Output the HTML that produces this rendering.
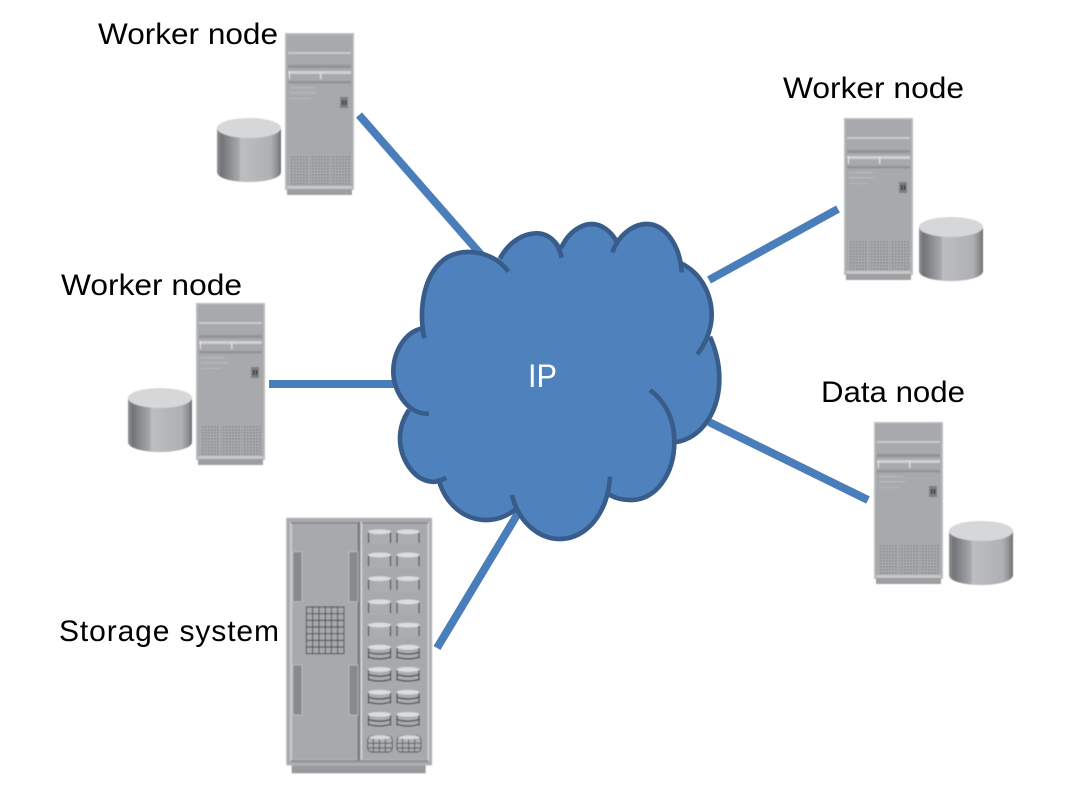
<!DOCTYPE html>
<html><head><meta charset="utf-8">
<style>html,body{margin:0;padding:0;background:#fff;width:1086px;height:801px;overflow:hidden}svg{display:block}text{font-family:"Liberation Sans",sans-serif;fill:#000;font-size:30px}</style>
</head><body>
<svg width="1086" height="801" viewBox="0 0 1086 801" xmlns="http://www.w3.org/2000/svg">
<defs>
<filter id="soft" x="0" y="0" width="1086" height="801" filterUnits="userSpaceOnUse"><feGaussianBlur stdDeviation="0.45"/></filter>
<linearGradient id="cy" x1="0" x2="1" y1="0" y2="0">
<stop offset="0" stop-color="#909295"/><stop offset=".07" stop-color="#727477"/><stop offset=".34" stop-color="#a6a8ab"/><stop offset=".37" stop-color="#bcbec0"/><stop offset=".84" stop-color="#aeb0b3"/><stop offset=".94" stop-color="#8e9093"/><stop offset="1" stop-color="#6a6c6f"/>
</linearGradient>
<pattern id="gr" width="3" height="3" patternUnits="userSpaceOnUse"><rect width="3" height="3" fill="#a9abae"/><rect width="1.6" height="1.6" fill="#86888b"/></pattern>
<g id="server">
<rect x="0" y="0" width="69" height="157" fill="#bcbec0"/>
<rect x="1.5" y="1.5" width="66" height="154" fill="#a7a9ac"/>
<rect x="3" y="19" width="63" height="2" fill="#c9cacc"/>
<rect x="3" y="32" width="63" height="3" fill="#919396"/>
<rect x="3" y="38" width="63" height="3" fill="#cfd0d2"/>
<rect x="4" y="38" width="1" height="8" fill="#e6e7e8"/>
<rect x="35" y="39" width="1.5" height="7" fill="#dcdde0"/>
<rect x="3" y="48" width="63" height="2.5" fill="#919396"/>
<rect x="5" y="54" width="24" height="1.5" fill="#b5b7b9"/>
<rect x="5" y="59" width="26" height="1.5" fill="#b5b7b9"/>
<rect x="5" y="65" width="20" height="1" fill="#b5b7b9"/>
<rect x="55" y="64" width="8" height="11" fill="#7d7f82"/>
<rect x="57" y="67" width="1.6" height="5" fill="#3a3b3d"/><rect x="59.8" y="67" width="1.6" height="5" fill="#3a3b3d"/>
<rect x="5" y="122" width="19" height="30" fill="url(#gr)"/>
<rect x="25" y="122" width="19" height="30" fill="url(#gr)"/>
<rect x="46" y="122" width="19" height="30" fill="url(#gr)"/>
<rect x="2" y="153" width="65" height="2.5" fill="#c8c9cb"/>
<rect x="2" y="156" width="65" height="6" fill="#9d9fa2"/>
</g>
<g id="cyl">
<path d="M0 10V54C0 60 14 64 32 64S64 60 64 54V10Z" fill="url(#cy)"/>
<ellipse cx="32" cy="10" rx="32" ry="10" fill="#d6d7d9"/>
</g>
<g id="disk">
<path d="M0 6V28C0 31 10 33 24 33S48 31 48 28V6Z" fill="#abadb0"/>
<rect x="0" y="6" width="2.6" height="22" fill="#55575a"/><rect x="45.4" y="6" width="2.6" height="22" fill="#55575a"/>
<ellipse cx="24" cy="5" rx="24" ry="5" fill="#dcdde0"/>
</g>
<g id="stack">
<use href="#disk"/>
<path d="M0 15Q24 23 48 15M0 25Q24 33 48 25" fill="none" stroke="#4a4c4f" stroke-width="2.6"/>
</g>
</defs>

<g stroke="#4a7ebb" stroke-width="8" fill="none">
<path d="M359 115L484 258"/>
<path d="M269 384H398"/>
<path d="M709 280L838 209"/>
<path d="M709 422L868 500"/>
<path d="M437 648L520 510"/>
</g>

<g filter="url(#soft)">
<use href="#server" x="285" y="33"/><use href="#cyl" x="217" y="118"/>
<use href="#server" x="196" y="303"/><use href="#cyl" x="128" y="388"/>
<use href="#server" x="844" y="118"/><use href="#cyl" x="919" y="217"/>
<use href="#server" x="874" y="422"/><use href="#cyl" x="949" y="521"/>

<g transform="translate(280 510) scale(.3333)">
<rect x="35" y="762" width="402" height="28" fill="#98999c"/>
<rect x="20" y="25" width="435" height="740" fill="#a7a9ac"/>
<rect x="20" y="25" width="435" height="740" fill="none" stroke="#b9bbbd" stroke-width="3"/>
<path d="M33 38H445V752H33Z" fill="none" stroke="#c9cacc" stroke-width="7"/>
<rect x="33" y="36" width="412" height="5" fill="#808285"/>
<rect x="233" y="36" width="8" height="716" fill="#77797c"/>
<rect x="241" y="36" width="6" height="716" fill="#d0d1d3"/>
<rect x="33" y="750" width="412" height="6" fill="#8a8c8f"/>
<g fill="#87898c" stroke="#c9cacc" stroke-width="2">
<rect x="39" y="125" width="27" height="150"/><rect x="207" y="125" width="27" height="150"/>
<rect x="39" y="465" width="27" height="150"/><rect x="207" y="465" width="27" height="150"/>
</g>
<g fill="none" stroke="#3c3e41" stroke-width="2.5">
<rect x="79" y="291" width="113" height="140"/>
<path d="M79 311H192M79 331H192M79 351H192M79 371H192M79 391H192M79 411H192M98 291V431M117 291V431M136 291V431M154 291V431M173 291V431"/>
</g>
<g transform="translate(-3 0) scale(1.45)">
<use href="#disk" x="184" y="40"/><use href="#disk" x="243" y="40"/>
<use href="#disk" x="184" y="88"/><use href="#disk" x="243" y="88"/>
<use href="#disk" x="184" y="137"/><use href="#disk" x="243" y="137"/>
<use href="#disk" x="184" y="185"/><use href="#disk" x="243" y="185"/>
<use href="#disk" x="184" y="233"/><use href="#disk" x="243" y="233"/>
<use href="#stack" x="184" y="279"/><use href="#stack" x="243" y="279"/>
<use href="#stack" x="184" y="325"/><use href="#stack" x="243" y="325"/>
<use href="#stack" x="184" y="372"/><use href="#stack" x="243" y="372"/>
<use href="#stack" x="184" y="418"/><use href="#stack" x="243" y="418"/>
</g>
<g fill="#aeb0b2" stroke="#4a4c4f" stroke-width="2.5">
<rect x="263" y="678" width="74" height="48" rx="12"/><rect x="351" y="678" width="72" height="48" rx="12"/>
<path d="M263 700H337M263 714H337M280 680V725M298 680V725M316 680V725M351 700H423M351 714H423M368 680V725M386 680V725M404 680V725" fill="none"/>
</g>
<ellipse cx="300" cy="682" rx="32" ry="6" fill="#d8d9db"/><ellipse cx="387" cy="682" rx="32" ry="6" fill="#d8d9db"/>
</g>
</g>

<g transform="translate(385 215) scale(.33333)" stroke="#385d8a" stroke-width="14" stroke-linecap="butt">
<path fill="#4f81bd" stroke="none" d="M113 340C105 270 115 170 190 125C230 100 270 105 305 120L345 130C375 75 420 55 455 55C490 55 520 70 530 100C550 50 590 27 620 27C650 27 680 50 695 75C715 45 750 27 785 27C840 27 880 80 888 145C950 175 980 240 980 300C980 325 978 345 975 365C995 410 1003 450 1003 490C1003 590 950 670 870 682C860 780 810 855 740 855C715 855 690 850 672 838C650 920 600 972 525 972C470 972 420 930 396 880C365 905 335 915 305 915C240 915 180 870 160 795C150 802 145 800 140 800C85 795 45 730 45 670C45 640 55 610 72 585C45 560 25 520 25 470C25 410 60 350 113 340Z"/>
<g fill="none">
<path d="M118 370C100 280 115 170 190 125C250 95 330 115 370 170"/>
<path d="M345 130C375 75 420 55 455 55C490 55 520 80 530 128"/>
<path d="M528 100C550 50 590 27 620 27C650 27 680 50 695 80"/>
<path d="M682 112C700 60 745 27 785 27C840 27 885 90 890 172"/>
<path d="M888 145C950 175 980 240 980 300C980 350 955 395 937 418"/>
<path d="M975 365C995 410 1003 450 1003 490C1003 590 950 670 870 682"/>
<path d="M795 525C840 560 868 610 868 680C868 780 810 855 740 855C715 855 690 850 672 838"/>
<path d="M675 785C668 900 600 972 525 972C460 972 400 920 381 840"/>
<path d="M396 880C365 905 335 915 305 915C240 915 180 870 160 790"/>
<path d="M184 788C165 798 150 802 140 800C85 795 45 730 45 670C45 640 55 610 72 585"/>
<path d="M132 596C70 600 25 530 25 470C25 410 60 350 113 340"/>
</g>
</g>

<text x="98" y="44" textLength="180" lengthAdjust="spacingAndGlyphs">Worker node</text>
<text x="61" y="295" textLength="181" lengthAdjust="spacingAndGlyphs">Worker node</text>
<text x="783" y="98" textLength="181" lengthAdjust="spacingAndGlyphs">Worker node</text>
<text x="821" y="402" textLength="144" lengthAdjust="spacingAndGlyphs">Data node</text>
<text x="59" y="641" textLength="220" lengthAdjust="spacing">Storage system</text>
<text x="528" y="387" style="fill:#fff;font-size:32px" textLength="29" lengthAdjust="spacingAndGlyphs">IP</text>
</svg>
</body></html>
